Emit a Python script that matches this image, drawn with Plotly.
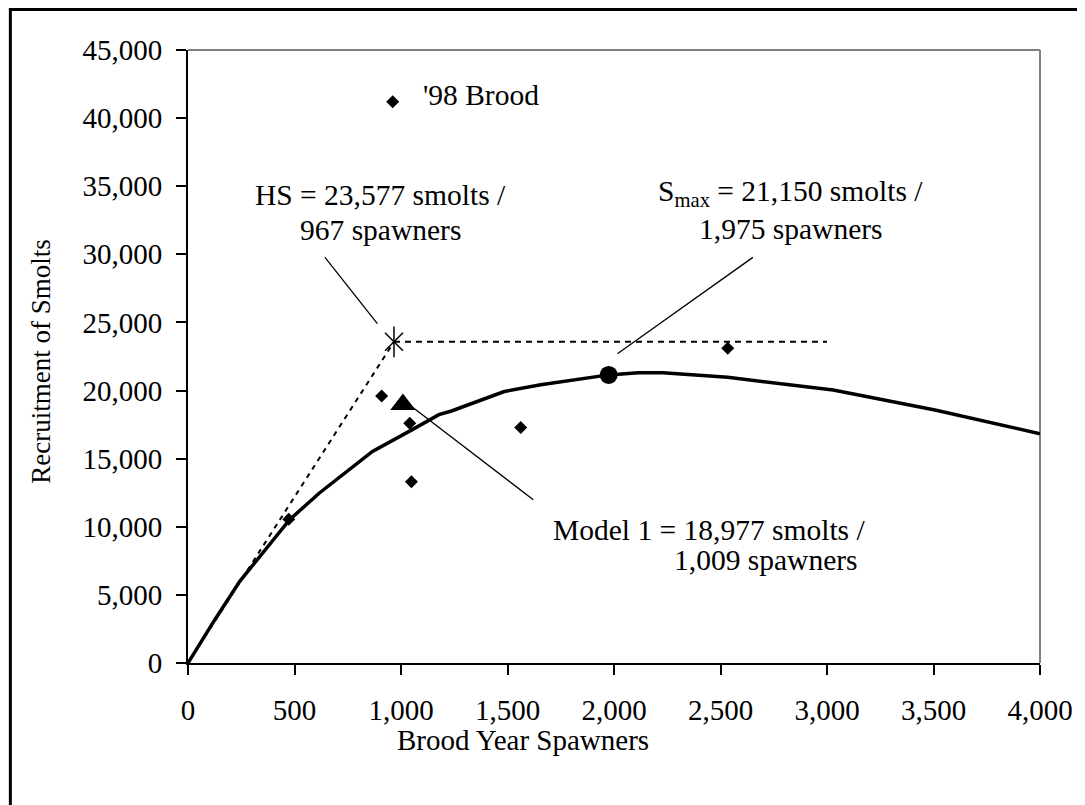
import plotly.graph_objects as go

# Observed brood data (spawners, smolts)
obs_spawners = [473, 909, 961, 1041, 1049, 1562, 2534]
obs_smolts = [10550, 19600, 41200, 17600, 13300, 17280, 23100]

# Fitted stock-recruitment curve
curve_spawners = [0, 126, 243, 375, 477, 617, 866, 1053, 1178, 1237, 1485, 1656,
                  1885, 1975, 2114, 2229, 2534, 2800, 3029, 3507, 4000]
curve_smolts = [0, 3180, 5990, 8560, 10520, 12480, 15530, 17130, 18230, 18500, 19930,
                20420, 20970, 21150, 21310, 21310, 20970, 20480, 20040, 18570, 16830]

# Reference points
hs_spawners, hs_smolts = 967, 23577
smax_spawners, smax_smolts = 1975, 21150
model1_spawners, model1_smolts = 1009, 18977
hs_line_end = 3000

# Leader lines for the callouts (x pair, y pair)
hs_leader = ([643, 889], [29775, 24910])
smax_leader = ([2016, 2652], [22700, 29775])
model1_leader = ([1045, 1621], [18890, 11990])

x_ticks = list(range(0, 4001, 500))
y_ticks = list(range(0, 45001, 5000))

FONT = "Liberation Serif"
fig = go.Figure()

# HS dashed lines
fig.add_trace(go.Scatter(x=[0, hs_spawners], y=[0, hs_smolts], mode="lines",
                         line=dict(color="black", width=2, dash="5px,5px"),
                         hoverinfo="skip", showlegend=False))
fig.add_trace(go.Scatter(x=[hs_spawners, hs_line_end], y=[hs_smolts, hs_smolts], mode="lines",
                         line=dict(color="black", width=2, dash="6px,5px"),
                         hoverinfo="skip", showlegend=False))

# Curve
fig.add_trace(go.Scatter(x=curve_spawners, y=curve_smolts, mode="lines",
                         line=dict(color="black", width=3.5),
                         showlegend=False))

# Observations
fig.add_trace(go.Scatter(x=obs_spawners, y=obs_smolts, mode="markers",
                         marker=dict(symbol="diamond", size=10, color="black"),
                         showlegend=False))

# Leader lines
for lx, ly in (hs_leader, smax_leader, model1_leader):
    fig.add_trace(go.Scatter(x=lx, y=ly, mode="lines",
                             line=dict(color="black", width=1.3),
                             hoverinfo="skip", showlegend=False))

# Special markers
fig.add_trace(go.Scatter(x=[hs_spawners], y=[hs_smolts], mode="markers",
                         marker=dict(symbol="x-thin-open", size=18, color="black",
                                     line=dict(color="black", width=1.5)),
                         showlegend=False))
fig.add_trace(go.Scatter(x=[hs_spawners], y=[hs_smolts], mode="markers",
                         marker=dict(symbol="line-ns-open", size=22, color="black",
                                     line=dict(color="black", width=1.5)),
                         showlegend=False))
fig.add_trace(go.Scatter(x=[smax_spawners], y=[smax_smolts], mode="markers",
                         marker=dict(symbol="circle", size=18, color="black"),
                         showlegend=False))
fig.add_trace(go.Scatter(x=[model1_spawners], y=[model1_smolts], mode="markers",
                         marker=dict(symbol="triangle-up", size=22, color="black"),
                         showlegend=False))

af = dict(family=FONT, size=29.5, color="black")
tf = dict(family=FONT, size=29, color="black")
annotations = [
    dict(x=1092, y=41720, xref="x", yref="y", text="'98 Brood", showarrow=False,
         xanchor="left", yanchor="middle", font=af),
    dict(x=902, y=34380, xref="x", yref="y", text="HS = 23,577 smolts /",
         showarrow=False, xanchor="center", yanchor="middle", font=af),
    dict(x=902, y=31810, xref="x", yref="y", text="967 spawners",
         showarrow=False, xanchor="center", yanchor="middle", font=af),
    dict(x=2830, y=34500, xref="x", yref="y", text="S<sub>max</sub> = 21,150 smolts /",
         showarrow=False, xanchor="center", yanchor="middle", font=af),
    dict(x=2830, y=31880, xref="x", yref="y", text="1,975 spawners",
         showarrow=False, xanchor="center", yanchor="middle", font=af),
    dict(x=3190, y=9786, xref="x", yref="y", text="Model 1 = 18,977 smolts /",
         showarrow=False, xanchor="right", yanchor="middle", font=af),
    dict(x=3155, y=7584, xref="x", yref="y", text="1,009 spawners",
         showarrow=False, xanchor="right", yanchor="middle", font=af),
    dict(x=0.3937, y=-0.1256, xref="paper", yref="paper", text="Brood Year Spawners",
         showarrow=False, xanchor="center", yanchor="middle", font=tf),
    dict(x=-0.1729, y=0.491, xref="paper", yref="paper", text="Recruitment of Smolts",
         showarrow=False, xanchor="center", yanchor="middle", textangle=-90,
         font=dict(family=FONT, size=27, color="black")),
]

shapes = [
    dict(type="line", xref="paper", yref="paper", x0=0, x1=1, y0=1, y1=1,
         line=dict(color="#808080", width=2), layer="below"),
    dict(type="line", xref="paper", yref="paper", x0=1, x1=1, y0=0, y1=1,
         line=dict(color="#808080", width=2), layer="below"),
    dict(type="rect", xref="paper", yref="paper", x0=-0.2085, x1=1.06, y0=-0.25, y1=1.0661,
         line=dict(color="black", width=3), layer="below"),
]

fig.update_layout(
    width=1077, height=797,
    margin=dict(l=180, r=41, t=42, b=142),
    paper_bgcolor="white", plot_bgcolor="white",
    font=dict(family=FONT, size=29, color="black"),
    separators=".,",
    annotations=annotations, shapes=shapes,
    showlegend=False,
)
fig.update_xaxes(range=[0, 4000], tickvals=x_ticks, tickformat=",d",
                 showgrid=False, zeroline=False, showline=True, linecolor="black", linewidth=2,
                 ticks="outside", ticklen=10, tickwidth=2, tickcolor="black",
                 ticklabelstandoff=10, tickfont=tf)
fig.update_yaxes(range=[0, 45000], tickvals=y_ticks, tickformat=",d",
                 showgrid=False, zeroline=False, showline=True, linecolor="black", linewidth=2,
                 ticks="outside", ticklen=10, tickwidth=2, tickcolor="black",
                 ticklabelstandoff=8, tickfont=tf)

fig.write_html("out.html")
